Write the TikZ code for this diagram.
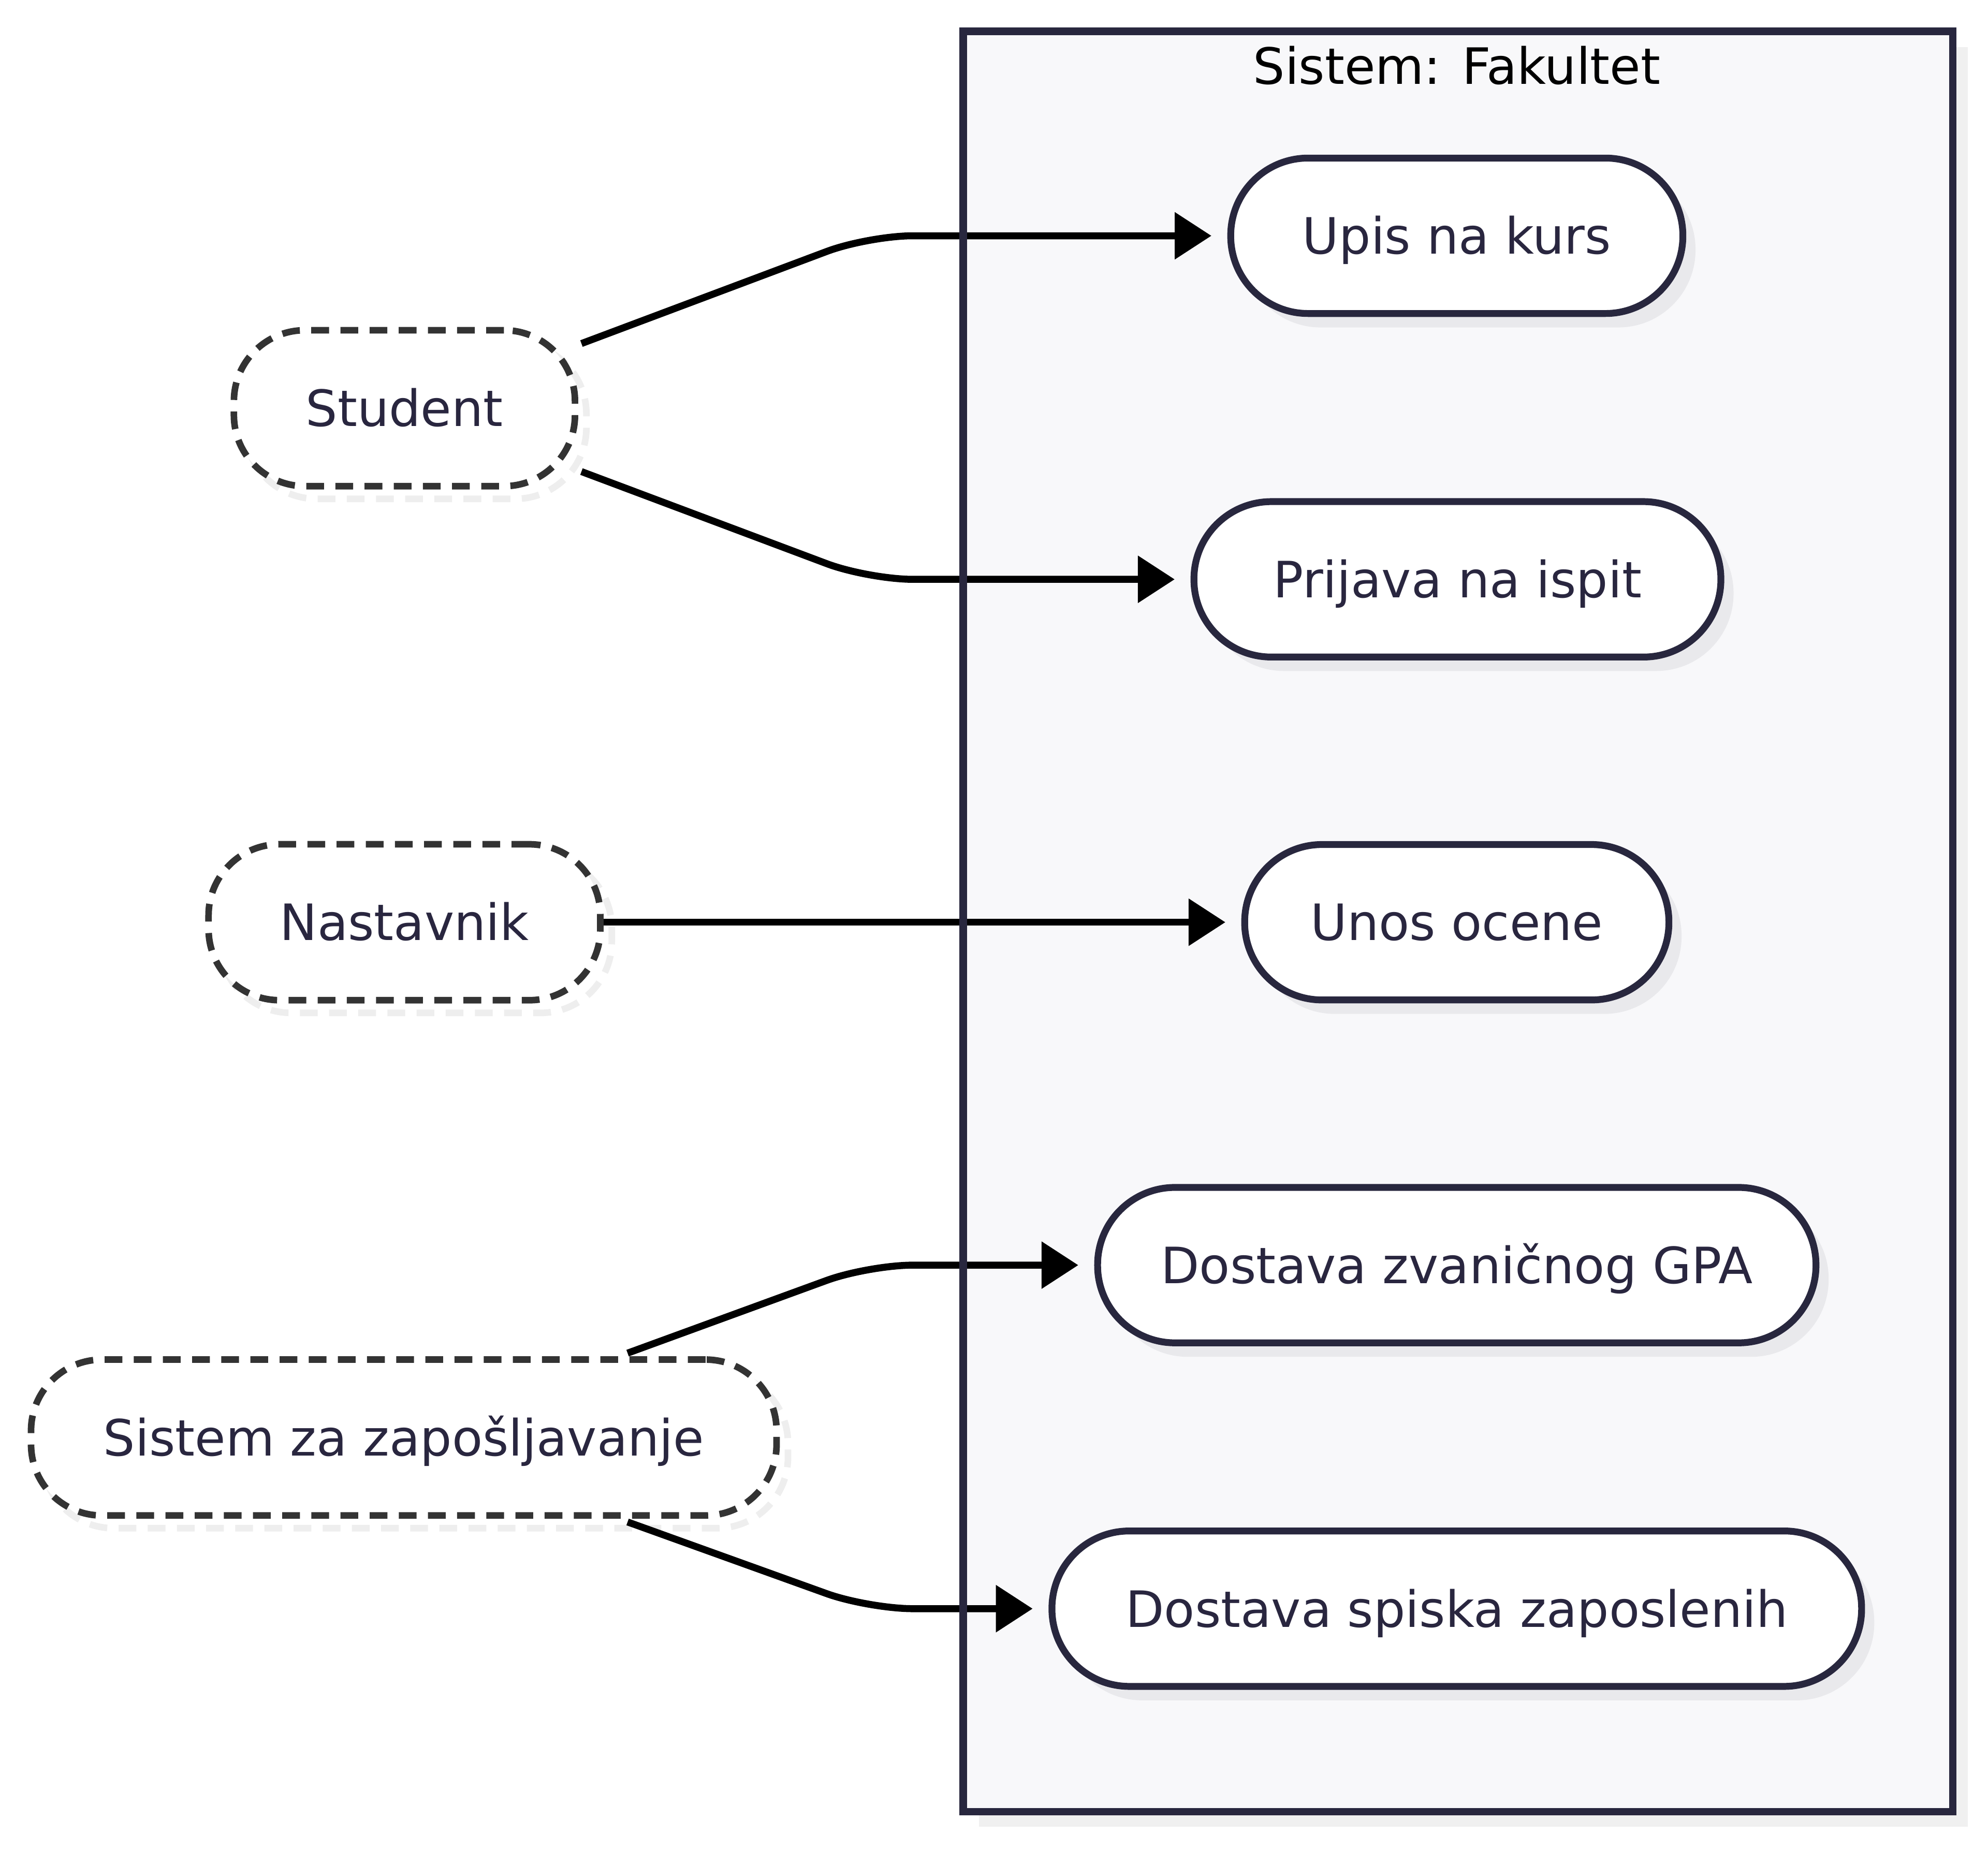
\documentclass[tikz,border=0pt]{standalone}
\usepackage{fontspec}
\setmainfont{DejaVu Sans}
\usetikzlibrary{arrows.meta,calc,shadows}
\pgfdeclarelayer{background}
\pgfsetlayers{background,main}
\definecolor{navy}{HTML}{28273E}
\definecolor{textc}{HTML}{29263F}
\definecolor{dashc}{HTML}{333333}
\definecolor{boxfill}{HTML}{F8F8FA}
\definecolor{ucshadow}{HTML}{E9E9EC}
\definecolor{actshadow}{HTML}{EEEEEE}
\definecolor{boxshadow}{HTML}{F0F0F0}
\tikzset{
  lbl/.style={font=\fontsize{39.5}{47}\selectfont, text height=28.8pt, text depth=0pt},
  usecase/.style={lbl, text=textc, draw=navy, fill=white, line width=5.4pt,
    rounded corners=61pt, minimum height=122.6pt, inner xsep=0pt, inner ysep=0pt,
    drop shadow={shadow xshift=10pt, shadow yshift=-11pt, fill=ucshadow, opacity=1}},
  actor/.style={lbl, text=textc, draw=dashc, fill=white, line width=5.2pt,
    dash pattern=on 14pt off 9pt, rounded corners=56pt, minimum height=123pt,
    inner xsep=0pt, inner ysep=0pt,
    preaction={draw=actshadow, line width=5.2pt, dash pattern=on 14pt off 9pt,
      transform canvas={xshift=9pt, yshift=-10pt}}},
  sysbox/.style={fill=boxfill, minimum width=780pt, minimum height=1404pt,
    drop shadow={shadow xshift=12pt, shadow yshift=-12pt, fill=boxshadow, opacity=1}},
  sysborder/.style={draw=navy, line width=6pt},
  assoc/.style={draw=black, line width=5.5pt, rounded corners=35pt,
    -{Triangle[length=29pt, width=36pt]}, shorten >=12.5pt},
  titlelbl/.style={lbl, text=black, inner sep=0pt}
}
\begin{document}
\begin{tikzpicture}[x=1pt, y=-1pt]
\useasboundingbox (0,0) rectangle (1568,1459);
\begin{pgfonlayer}{background}
  \fill[white] (0,0) rectangle (1568,1459);
  \node[sysbox] (sys) at (1150,727) {};
\end{pgfonlayer}

% use cases
\node[usecase, minimum width=356.6pt] (upis)    at (1149,186)  {Upis na kurs};
\node[usecase, minimum width=415.6pt] (prijava) at (1149.5,457) {Prijava na ispit};
\node[usecase, minimum width=334.6pt] (unos)    at (1149,727.5) {Unos ocene};
\node[usecase, minimum width=566.6pt] (gpa)     at (1149,998)  {Dostava zvaničnog GPA};
\node[usecase, minimum width=638.6pt] (spisak)  at (1149,1269) {Dostava spiska zaposlenih};

% actors
\node[actor, minimum width=269pt] (student)   at (319,322)    {Student};
\node[actor, minimum width=309pt] (nastavnik) at (319,727.5)  {Nastavnik};
\node[actor, minimum width=588pt] (zap)       at (318.5,1134) {Sistem za zapošljavanje};

% associations
\draw[assoc] ($(student.east)+(2.5,-51)$) -- (685,0 |- upis.west) -- (upis.west);
\draw[assoc] ($(student.east)+(2.5,50)$) -- (685,0 |- prijava.west) -- (prijava.west);
\draw[assoc] (nastavnik.east) -- (unos.west);
\draw[assoc] ($(zap.north)+(176.5,-2.5)$) -- (685,0 |- gpa.west) -- (gpa.west);
\draw[assoc] ($(zap.south)+(176.5,2.5)$) -- (685,0 |- spisak.west) -- (spisak.west);

% system boundary drawn over the connectors
\draw[sysborder] (sys.north west) rectangle (sys.south east);
\node[titlelbl] (title) at (1149,52) {Sistem: Fakultet};
\end{tikzpicture}
\end{document}
